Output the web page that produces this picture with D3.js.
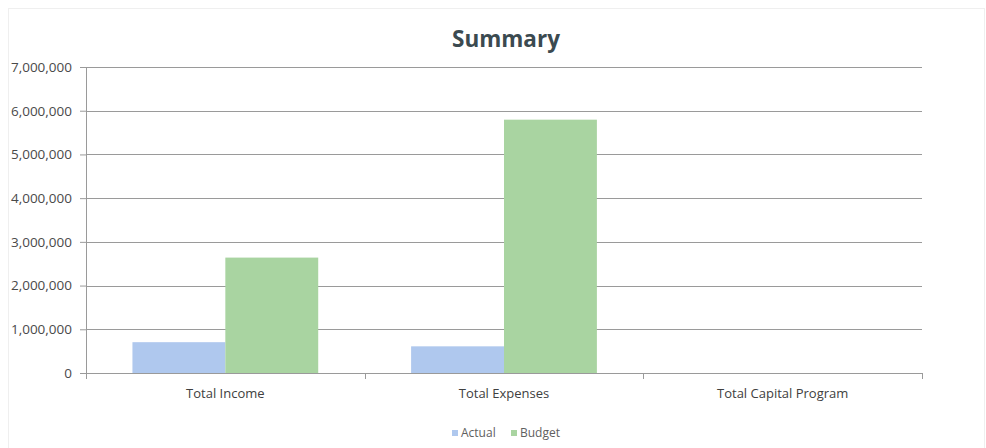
<!DOCTYPE html>
<html>
<head>
<meta charset="utf-8">
<script src="https://cdn.jsdelivr.net/npm/d3@7/dist/d3.min.js"></script>
<style>
  html, body { margin: 0; padding: 0; background: #fff; }
  svg { display: block; font-family: "Open Sans", "Liberation Sans", sans-serif; }
</style>
</head>
<body>
<svg id="chart" width="986" height="448"></svg>
<script>
// Summary figures per category
const categories = ["Total Income", "Total Expenses", "Total Capital Program"];
const seriesNames = ["Actual", "Budget"];
const actualValues = [705000, 610000, 0];
const budgetValues = [2640000, 5795000, 0];
const yTicks = [0, 1000000, 2000000, 3000000, 4000000, 5000000, 6000000, 7000000];
const colors = { Actual: "#afc8ee", Budget: "#a9d4a1" };

const svg = d3.select("#chart");
const W = 986, H = 448;
const margin = { left: 86, right: 64, top: 67, bottom: 75 };
const plotW = W - margin.left - margin.right;
const plotH = H - margin.top - margin.bottom;

// faint outer frame of the chart area
svg.append("rect")
  .attr("x", 8.5).attr("y", 8.5).attr("width", 976).attr("height", 445)
  .attr("fill", "none").attr("stroke", "#efefef");

const g = svg.append("g").attr("transform", `translate(${margin.left},${margin.top})`);

const x0 = d3.scaleBand().domain(categories).range([0, plotW]).padding(0);
const bw = x0.bandwidth();
const x1 = d3.scaleBand().domain(seriesNames).range([bw / 6, bw * 5 / 6]).padding(0);
const y = d3.scaleLinear().domain([0, 7000000]).range([plotH, 0]);

// horizontal gridlines
g.append("g").selectAll("line").data(yTicks.filter(d => d > 0)).join("line")
  .attr("x1", 0).attr("x2", plotW)
  .attr("y1", d => Math.round(y(d)) + 0.5).attr("y2", d => Math.round(y(d)) + 0.5)
  .attr("stroke", "#9a9a9a").attr("stroke-width", 1);

// y axis
const yAxis = g.append("g")
  .call(d3.axisLeft(y).tickValues(yTicks).tickSize(6).tickPadding(8).tickFormat(d3.format(",")));
yAxis.select(".domain").attr("stroke", "#9a9a9a");
yAxis.selectAll(".tick line").attr("stroke", "#9a9a9a");
yAxis.selectAll(".tick text").attr("fill", "#4a4a4a").style("font-size", "13.5px")
  .style("font-family", "'Open Sans', sans-serif");

// bars
const data = categories.map((c, i) => ({ cat: c, vals: [
  { key: "Actual", value: actualValues[i] },
  { key: "Budget", value: budgetValues[i] }
]}));
g.append("g").selectAll("g").data(data).join("g")
  .attr("transform", d => `translate(${x0(d.cat)},0)`)
  .selectAll("rect").data(d => d.vals).join("rect")
  .attr("x", d => x1(d.key)).attr("width", x1.bandwidth())
  .attr("y", d => y(d.value)).attr("height", d => plotH - y(d.value))
  .attr("fill", d => colors[d.key]);

// x axis with ticks at category boundaries
const xa = g.append("g").attr("transform", `translate(0,${plotH})`);
xa.append("line").attr("x1", 0).attr("x2", plotW).attr("y1", 0.5).attr("y2", 0.5)
  .attr("stroke", "#9a9a9a");
const bounds = [0, ...categories.map(c => x0(c) + bw)];
xa.selectAll("line.tk").data(bounds).join("line").attr("class", "tk")
  .attr("x1", d => Math.round(d) + 0.5).attr("x2", d => Math.round(d) + 0.5)
  .attr("y1", 0).attr("y2", 6).attr("stroke", "#9a9a9a");
xa.selectAll("text").data(categories).join("text")
  .attr("x", d => x0(d) + bw / 2).attr("y", 25)
  .attr("text-anchor", "middle").attr("fill", "#404040")
  .style("font-size", "13px").text(d => d);

// title
svg.append("text").attr("x", 506).attr("y", 47).attr("text-anchor", "middle")
  .attr("fill", "#3b4a50").style("font-size", "22.5px").style("font-weight", "bold")
  .text("Summary");

// legend
const legend = svg.append("g").attr("transform", "translate(452,437)");
const items = [{ key: "Actual", x: 0 }, { key: "Budget", x: 59 }];
items.forEach(it => {
  legend.append("rect").attr("x", it.x).attr("y", -7).attr("width", 6).attr("height", 6)
    .attr("fill", colors[it.key]);
  legend.append("text").attr("x", it.x + 9).attr("y", 0)
    .attr("fill", "#606060").style("font-size", "12px").text(it.key);
});
</script>
</body>
</html>
